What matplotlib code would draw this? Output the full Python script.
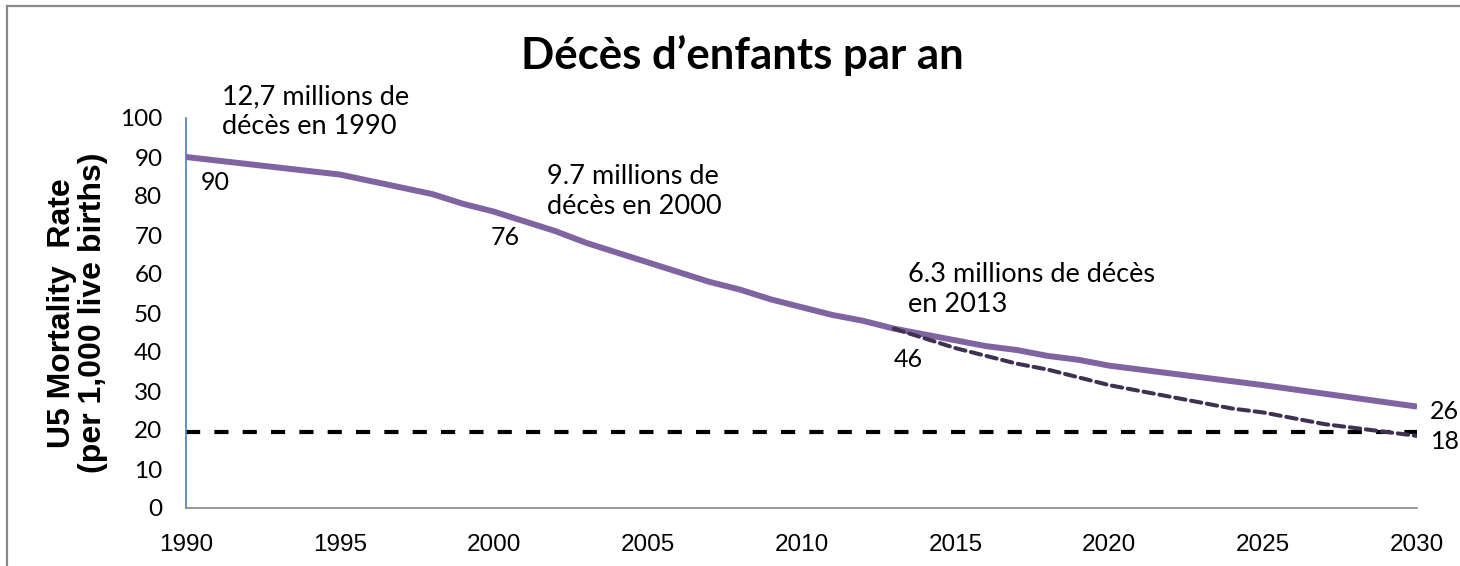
import matplotlib
matplotlib.use("Agg")
import matplotlib.pyplot as plt
from matplotlib.lines import Line2D

# ---- data ----
years = [1990, 1995, 1998, 1999, 2000, 2001, 2002, 2003, 2004, 2005, 2006, 2007,
         2008, 2009, 2010, 2011, 2012, 2013, 2014, 2015, 2016, 2017, 2018, 2019,
         2020, 2025, 2030]
u5mr = [90, 85.5, 80.5, 78, 76, 73.5, 71, 68, 65.5, 63, 60.5, 58, 56, 53.5, 51.5,
        49.5, 48, 46, 44.5, 43, 41.5, 40.5, 39, 38, 36.5, 31.5, 26]
proj_years = [2013, 2014, 2015, 2016, 2017, 2018, 2019, 2020, 2021, 2022, 2023,
              2024, 2025, 2026, 2027, 2028, 2029, 2030]
proj_u5mr = [46, 43.5, 41, 39, 37, 35.5, 33.5, 31.5, 30, 28.5, 27, 25.5, 24.5,
             23, 21.5, 20.5, 19.5, 18.5]
target_years = [1990, 2030]
target_value = [19.5, 19.5]
xticks = [1990, 1995, 2000, 2005, 2010, 2015, 2020, 2025, 2030]
yticks = [0, 10, 20, 30, 40, 50, 60, 70, 80, 90, 100]
labelled = [(1990, 90, "90"), (2000, 76, "76"), (2013, 46, "46")]
title = "Décès d’enfants par an"
notes = ["12,7 millions de\ndécès en 1990", "9.7 millions de\ndécès en 2000",
         "6.3 millions de décès\nen 2013"]

W, H = 1460, 566
fig = plt.figure(figsize=(W / 100, H / 100), dpi=100)
ax = fig.add_axes([186 / W, 1 - 508 / H, (1417 - 186) / W, (508 - 118) / H])

# outer frame (top and left edges visible)
fig.lines.append(Line2D([7 / W, 7 / W], [0, 1 - 6 / H], transform=fig.transFigure,
                        color="#888888", lw=1.6))
fig.lines.append(Line2D([7 / W, 1], [1 - 6 / H, 1 - 6 / H], transform=fig.transFigure,
                        color="#888888", lw=1.6))

ax.plot(target_years, target_value, color="black", lw=3.0, dashes=(3.4, 3.4),
        clip_on=False, zorder=2)
ax.plot(years, u5mr, color="#8064A2", lw=4.3, solid_capstyle="butt", zorder=3)
ax.plot(proj_years, proj_u5mr, color="#403151", lw=2.9, dashes=(2.6, 1.4),
        dash_capstyle="round", zorder=4)

ax.set_xlim(1990, 2030)
ax.set_ylim(0, 100)
ax.set_xticks(xticks)
ax.set_yticks(yticks)
ax.tick_params(length=0)
ax.tick_params(axis="y", pad=17)
ax.tick_params(axis="x", pad=19)
for t in ax.get_yticklabels():
    t.set_fontfamily("Lato")
    t.set_fontsize(17.5)
for t in ax.get_xticklabels():
    t.set_fontfamily("Liberation Sans")
    t.set_fontsize(17.5)
for s in ["top", "right"]:
    ax.spines[s].set_visible(False)
ax.spines["left"].set_color("#4A7EBB")
ax.spines["left"].set_linewidth(1.2)
ax.spines["bottom"].set_color("#868686")
ax.spines["bottom"].set_linewidth(1.2)

ax.set_ylabel("U5 Mortality  Rate\n(per 1,000 live births)", fontfamily="Liberation Sans",
              fontweight="bold", fontsize=23, linespacing=1.05)
ax.yaxis.set_label_coords(-78 / (1417 - 186), 0.5)

fig.text(742 / W, 1 - 55 / H, title, ha="center", va="center", fontfamily="Lato",
         fontweight="bold", fontsize=31.5)

# data labels
offsets = [(29, -25), (11, -26), (14, -31)]
for (x, y, s), off in zip(labelled, offsets):
    ax.annotate(s, (x, y), xytext=off, textcoords="offset pixels", ha="center",
                va="center", fontfamily="Lato", fontsize=18)
ax.annotate(f"{u5mr[-1]:.0f}", (years[-1], u5mr[-1]), xytext=(13, -5),
            textcoords="offset pixels", ha="left", va="center", fontfamily="Lato",
            fontsize=18, annotation_clip=False)
ax.annotate(f"{proj_u5mr[-1]:.0f}", (proj_years[-1], proj_u5mr[-1]), xytext=(14, -6),
            textcoords="offset pixels", ha="left", va="center", fontfamily="Lato",
            fontsize=18, annotation_clip=False)

note_pos = [(222, 112), (547, 191), (908, 289)]
for (px, py), s in zip(note_pos, notes):
    fig.text(px / W, 1 - py / H, s, ha="left", va="center", fontfamily="Lato",
             fontsize=19.5, linespacing=1.25)

fig.savefig("out.png", dpi=100)
